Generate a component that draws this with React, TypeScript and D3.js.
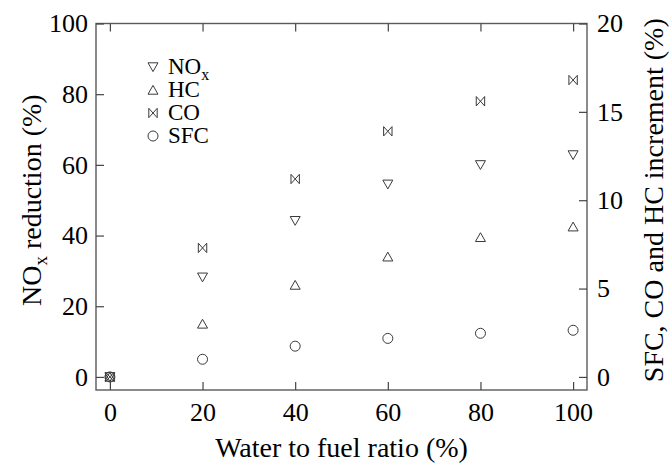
import React, { useEffect, useRef } from "react";
import * as d3 from "d3";

// Water-to-fuel ratio (%) on the x axis
const waterRatio = [0, 20, 40, 60, 80, 100];
// NOx reduction (%) — left axis
const noxReduction = [0, 28.2, 44.2, 54.5, 60.0, 62.8];
// Increments (%) — right axis
const hcIncrement = [0, 3.0, 5.2, 6.8, 7.9, 8.5];
const coIncrement = [0, 7.3, 11.2, 13.9, 15.6, 16.8];
const sfcIncrement = [0, 1.0, 1.74, 2.18, 2.47, 2.64];

const xTicks = [0, 20, 40, 60, 80, 100];
const leftTicks = [0, 20, 40, 60, 80, 100];
const rightTicks = [0, 5, 10, 15, 20];

const legendItems = ["NOx", "HC", "CO", "SFC"];

const W = 670;
const H = 464;
const FONT = "'Liberation Serif', 'Times New Roman', serif";
const INK = "#3a3a3a";

type Kind = "down" | "up" | "bowtie" | "circle";

function markerPath(kind: Kind): string {
  if (kind === "down") return "M-5,-4.2L5,-4.2L0,4.6Z";
  if (kind === "up") return "M-5,4.2L5,4.2L0,-4.6Z";
  if (kind === "bowtie") return "M-4.2,-4.7L4.2,4.7L4.2,-4.7L-4.2,4.7Z";
  return d3.symbol(d3.symbolCircle, Math.PI * 25)() || "";
}

export default function App() {
  const gRef = useRef<SVGGElement>(null);

  useEffect(() => {
    const g = d3.select(gRef.current);
    g.selectAll("*").remove();

    const left = 96, right = 587, top = 23.5, bottom = 390;
    const x = d3.scaleLinear().domain([-3, 103]).range([left, right]);
    const yL = d3.scaleLinear().domain([-3.7, 100]).range([bottom, top]);
    const yR = d3.scaleLinear().domain([-0.74, 20]).range([bottom, top]);

    // frame
    g.append("rect")
      .attr("x", left).attr("y", top)
      .attr("width", right - left).attr("height", bottom - top)
      .attr("fill", "none").attr("stroke", "#5a5a5a").attr("stroke-width", 1.4);

    const styleAxis = (sel: any, show: boolean) => {
      sel.select(".domain").remove();
      sel.selectAll(".tick line").attr("stroke", "#444").attr("stroke-width", 1.2);
      sel.selectAll(".tick text")
        .attr("font-family", FONT).attr("font-size", 26).attr("fill", "#000");
      if (!show) sel.selectAll(".tick text").remove();
    };

    g.append("g").attr("transform", `translate(0,${bottom})`)
      .call(d3.axisBottom(x).tickValues(xTicks).tickSizeInner(-8).tickSizeOuter(0).tickPadding(13))
      .call((s: any) => styleAxis(s, true));
    g.append("g").attr("transform", `translate(0,${top})`)
      .call(d3.axisTop(x).tickValues(xTicks).tickSizeInner(-8).tickSizeOuter(0))
      .call((s: any) => styleAxis(s, false));
    g.append("g").attr("transform", `translate(${left},0)`)
      .call(d3.axisLeft(yL).tickValues(leftTicks).tickSizeInner(-8).tickSizeOuter(0).tickPadding(8))
      .call((s: any) => styleAxis(s, true));
    g.append("g").attr("transform", `translate(${right},0)`)
      .call(d3.axisRight(yR).tickValues(rightTicks).tickSizeInner(-8).tickSizeOuter(0).tickPadding(10))
      .call((s: any) => styleAxis(s, true));

    const series: { kind: Kind; values: number[]; scale: any }[] = [
      { kind: "circle", values: sfcIncrement, scale: yR },
      { kind: "up", values: hcIncrement, scale: yR },
      { kind: "bowtie", values: coIncrement, scale: yR },
      { kind: "down", values: noxReduction, scale: yL },
    ];

    series.forEach((s) => {
      g.append("g").selectAll("path")
        .data(s.values)
        .join("path")
        .attr("d", markerPath(s.kind))
        .attr("transform", (v, i) => `translate(${x(waterRatio[i])},${s.scale(v)})`)
        .attr("fill", "none").attr("stroke", INK).attr("stroke-width", 1);
    });

    // legend
    const kinds: Kind[] = ["down", "up", "bowtie", "circle"];
    const lg = g.append("g").attr("transform", "translate(153,0)");
    legendItems.forEach((name, i) => {
      const base = 74 + i * 23;
      lg.append("path")
        .attr("d", markerPath(kinds[i]))
        .attr("transform", `translate(0,${base - 7})`)
        .attr("fill", "none").attr("stroke", INK).attr("stroke-width", 1);
      const t = lg.append("text")
        .attr("x", 15).attr("y", base)
        .attr("font-family", FONT).attr("font-size", 23).attr("fill", "#000");
      if (name === "NOx") {
        t.append("tspan").text("NO");
        t.append("tspan").attr("font-size", 16).attr("dy", 6).text("x");
      } else {
        t.text(name);
      }
    });

    // axis titles
    g.append("text")
      .attr("x", (left + right) / 2).attr("y", 457)
      .attr("text-anchor", "middle")
      .attr("font-family", FONT).attr("font-size", 28).attr("fill", "#000")
      .text("Water to fuel ratio (%)");

    const lt = g.append("text")
      .attr("transform", `translate(41,${yL(50)}) rotate(-90)`)
      .attr("text-anchor", "middle")
      .attr("font-family", FONT).attr("font-size", 28).attr("fill", "#000");
    lt.append("tspan").text("NO");
    lt.append("tspan").attr("font-size", 19).attr("dy", 6).text("x");
    lt.append("tspan").attr("dy", -6).text(" reduction (%)");

    g.append("text")
      .attr("transform", `translate(663,${yL(50)}) rotate(-90)`)
      .attr("text-anchor", "middle")
      .attr("font-family", FONT).attr("font-size", 28).attr("fill", "#000")
      .text("SFC, CO and HC increment (%)");
  }, []);

  return (
    <svg width={W} height={H} style={{ position: "absolute", left: 0, top: 0, background: "#fff" }}>
      <g ref={gRef} />
    </svg>
  );
}
